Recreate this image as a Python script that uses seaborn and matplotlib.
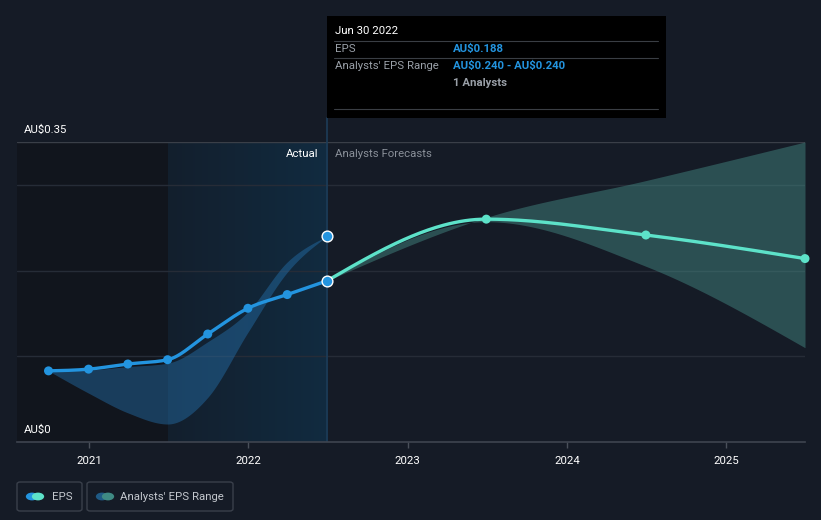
import numpy as np
import pandas as pd
import matplotlib
matplotlib.use("Agg")
import matplotlib.pyplot as plt
import seaborn as sns
from matplotlib.patches import Rectangle, FancyBboxPatch, Circle
from matplotlib.colors import LinearSegmentedColormap

# ---------------- data ----------------
actual_dates = ["2020-09-30", "2020-12-31", "2021-03-31", "2021-06-30",
                "2021-09-30", "2021-12-31", "2022-03-31", "2022-06-30"]
actual_eps = [0.083, 0.085, 0.091, 0.096, 0.126, 0.156, 0.172, 0.188]

past_range_low = [0.083, 0.057, 0.034, 0.021, 0.052, 0.128, 0.198, 0.240]
past_range_high = [0.083, 0.084, 0.088, 0.092, 0.117, 0.152, 0.210, 0.240]

forecast_dates = ["2022-06-30", "2023-06-30", "2024-06-30", "2025-06-30"]
forecast_eps = [0.188, 0.260, 0.2415, 0.214]
forecast_low = [0.188, 0.257, 0.205, 0.110]
forecast_high = [0.188, 0.262, 0.305, 0.350]

analyst_point_date = "2022-06-30"
analyst_point_value = 0.240

year_ticks = [2021, 2022, 2023, 2024, 2025]
y_labels = ["AU$0", "AU$0.35"]

# ---------------- helpers ----------------
def dec_year(s):
    d = pd.Timestamp(s)
    start = pd.Timestamp(year=d.year, month=1, day=1)
    end = pd.Timestamp(year=d.year + 1, month=1, day=1)
    return d.year + (d - start) / (end - start)

def monotone(x, y, n=60):
    """Monotone cubic (d3 curveMonotoneX style) rendering of the given points."""
    x = np.asarray(x, float); y = np.asarray(y, float)
    h = np.diff(x); s = np.diff(y) / h
    m = np.zeros_like(y)
    for i in range(1, len(y) - 1):
        p = (s[i - 1] * h[i] + s[i] * h[i - 1]) / (h[i - 1] + h[i])
        m[i] = (np.sign(s[i - 1]) + np.sign(s[i])) * min(abs(s[i - 1]), abs(s[i]), 0.5 * abs(p))
    if len(y) > 2:
        m[0] = (3 * s[0] - m[1]) / 2
        m[-1] = (3 * s[-1] - m[-2]) / 2
    else:
        m[:] = s[0]
    xs, ys = [], []
    for i in range(len(h)):
        t = np.linspace(0, 1, n, endpoint=(i == len(h) - 1))
        h00 = 2 * t**3 - 3 * t**2 + 1
        h10 = t**3 - 2 * t**2 + t
        h01 = -2 * t**3 + 3 * t**2
        h11 = t**3 - t**2
        xs.append(x[i] + t * h[i])
        ys.append(h00 * y[i] + h10 * h[i] * m[i] + h01 * y[i + 1] + h11 * h[i] * m[i + 1])
    return np.concatenate(xs), np.concatenate(ys)

ax_x = np.array([dec_year(d) for d in actual_dates])
fc_x = np.array([dec_year(d) for d in forecast_dates])
ap_x = dec_year(analyst_point_date)

sns.set_theme(style="dark")
plt.rcParams["font.family"] = ["Roboto", "DejaVu Sans"]
plt.rcParams["text.parse_math"] = False

BG = "#151b26"
fig = plt.figure(figsize=(8.21, 5.20), dpi=100, facecolor=BG)
ax = fig.add_axes([17 / 821, 1 - 442 / 520, (805 - 17) / 821, 300 / 520])
ax.set_facecolor(BG)

x_right = dec_year("2025-06-30")
x_left = x_right - (x_right - 2021) * 788 / 716
ax.set_xlim(x_left, x_right)
ax.set_ylim(0, 0.35)

# background regions
mid21 = ax_x[3]; mid22 = ax_x[-1]
ax.add_patch(Rectangle((x_left, 0), mid21 - x_left, 0.35, color="#11151d", zorder=0, lw=0))
grad = np.linspace(0, 1, 256).reshape(1, -1)
cmap = LinearSegmentedColormap.from_list("hl", ["#131f2d", "#112b40"])
ax.imshow(grad, extent=[mid21, mid22, 0, 0.35], aspect="auto", cmap=cmap, zorder=0.5)

# grid
for gy in [0.1, 0.2, 0.3]:
    ax.axhline(gy, color="#262c37", lw=1, zorder=1)
ax.axhline(0.35, color="#3a3f48", lw=1, zorder=1)
ax.axvline(mid22, color="#1d3c58", lw=1.2, zorder=1)

# past analyst range
px, plo = monotone(ax_x, past_range_low)
_, phi = monotone(ax_x, past_range_high)
ax.fill_between(px, plo, phi, color="#2676b5", alpha=0.42, lw=0, zorder=2)

# forecast range
fx, flo = monotone(fc_x, forecast_low)
_, fhi = monotone(fc_x, forecast_high)
ax.fill_between(fx, flo, fhi, color="#4a9890", alpha=0.42, lw=0, zorder=2)

# lines
lx, ly = monotone(ax_x, actual_eps)
line_df = pd.DataFrame({"x": lx, "y": ly})
sns.lineplot(data=line_df, x="x", y="y", ax=ax, color="#2394df", lw=2.4,
             sort=False, estimator=None, zorder=4)
gx, gy_ = monotone(fc_x, forecast_eps)
fdf = pd.DataFrame({"x": gx, "y": gy_})
sns.lineplot(data=fdf, x="x", y="y", ax=ax, color="#5de2c9", lw=2.4,
             sort=False, estimator=None, zorder=4)

# markers
adf = pd.DataFrame({"x": ax_x[:-1], "y": actual_eps[:-1]})
sns.scatterplot(data=adf, x="x", y="y", ax=ax, color="#2394df", s=42,
                edgecolor="none", zorder=5)
fmk = pd.DataFrame({"x": fc_x[1:], "y": forecast_eps[1:]})
sns.scatterplot(data=fmk, x="x", y="y", ax=ax, color="#5de2c9", s=42,
                edgecolor="none", zorder=5, clip_on=False)
hl = pd.DataFrame({"x": [ax_x[-1], ap_x], "y": [actual_eps[-1], analyst_point_value]})
sns.scatterplot(data=hl, x="x", y="y", ax=ax, color="#2394df", s=60,
                edgecolor="white", linewidth=1.0, zorder=6, clip_on=False)

# axes styling
ax.set_xlabel(""); ax.set_ylabel("")
ax.set_yticks([])
ax.set_xticks(year_ticks)
ax.set_xticklabels([str(y) for y in year_ticks], color="white", fontsize=8.2)
ax.tick_params(axis="x", length=4, width=1, color="#4a505a", pad=6, bottom=True)
for sp in ["top", "right", "left"]:
    ax.spines[sp].set_visible(False)
ax.spines["bottom"].set_color("#3f4550")
ax.spines["bottom"].set_linewidth(1.2)

# y labels
fig.text(24 / 821, 1 - 130 / 520, y_labels[1], color="white", fontsize=8.2, va="center", ha="left")
fig.text(24 / 821, 1 - 430 / 520, y_labels[0], color="white", fontsize=8.2, va="center", ha="left")

# Actual / Forecast labels
fig.text(318 / 821, 1 - 154 / 520, "Actual", color="white", fontsize=8.2, va="center", ha="right")
fig.text(335 / 821, 1 - 154 / 520, "Analysts Forecasts", color="#8a9099", fontsize=8.2, va="center", ha="left")

# vertical line above plot to tooltip
fig.add_artist(plt.Line2D([327 / 821, 327 / 821], [1 - 142 / 520, 1 - 118 / 520],
                          color="#1d3c58", lw=1.2, transform=fig.transFigure))

# tooltip
fig.add_artist(Rectangle((327 / 821, 1 - 118 / 520), (666 - 327) / 821, (118 - 16) / 520,
                         transform=fig.transFigure, facecolor="black", edgecolor="none", zorder=10))
for ly_ in [41, 58, 109]:
    fig.add_artist(plt.Line2D([334 / 821, 658 / 821], [1 - ly_ / 520] * 2, color="#3a3e44",
                              lw=0.8, transform=fig.transFigure, zorder=11))
fig.text(335 / 821, 1 - 31 / 520, "Jun 30 2022", color="white", fontsize=8.2, va="center", zorder=12)
fig.text(335 / 821, 1 - 49 / 520, "EPS", color="#9aa0a8", fontsize=8.2, va="center", zorder=12)
fig.text(453 / 821, 1 - 49 / 520, "AU$0.188", color="#2394df", fontsize=8.2, fontweight="bold", va="center", zorder=12)
fig.text(335 / 821, 1 - 66 / 520, "Analysts' EPS Range", color="#9aa0a8", fontsize=8.2, va="center", zorder=12)
fig.text(453 / 821, 1 - 66 / 520, "AU$0.240 - AU$0.240", color="#2394df", fontsize=8.2, fontweight="bold", va="center", zorder=12)
fig.text(453 / 821, 1 - 83 / 520, "1 Analysts", color="#9aa0a8", fontsize=8.2, fontweight="bold", va="center", zorder=12)

# legend boxes
def legend_box(x0, x1, c1, c2, label, tx):
    fig.add_artist(FancyBboxPatch((x0 / 821, 1 - 511 / 520), (x1 - x0) / 821, 29 / 520,
                                  boxstyle="round,pad=0,rounding_size=0.004",
                                  transform=fig.transFigure, facecolor="none",
                                  edgecolor="#3a404b", lw=1))
    cy = 1 - 496.5 / 520
    fig.add_artist(Circle(((x0 + 15) / 821, cy), 0.0075, transform=fig.transFigure,
                          facecolor=c1, edgecolor="none"))
    fig.add_artist(Circle(((x0 + 21) / 821, cy), 0.0075, transform=fig.transFigure,
                          facecolor=c2, edgecolor="none"))
    fig.text(tx / 821, cy, label, color="#c3c7cd", fontsize=8.2, va="center", ha="left")

legend_box(17, 82, "#2394df", "#5de2c9", "EPS", 52)
legend_box(87, 233, "#1f5a85", "#3f8a83", "Analysts' EPS Range", 120)

fig.savefig("out.png", dpi=100, facecolor=BG)
